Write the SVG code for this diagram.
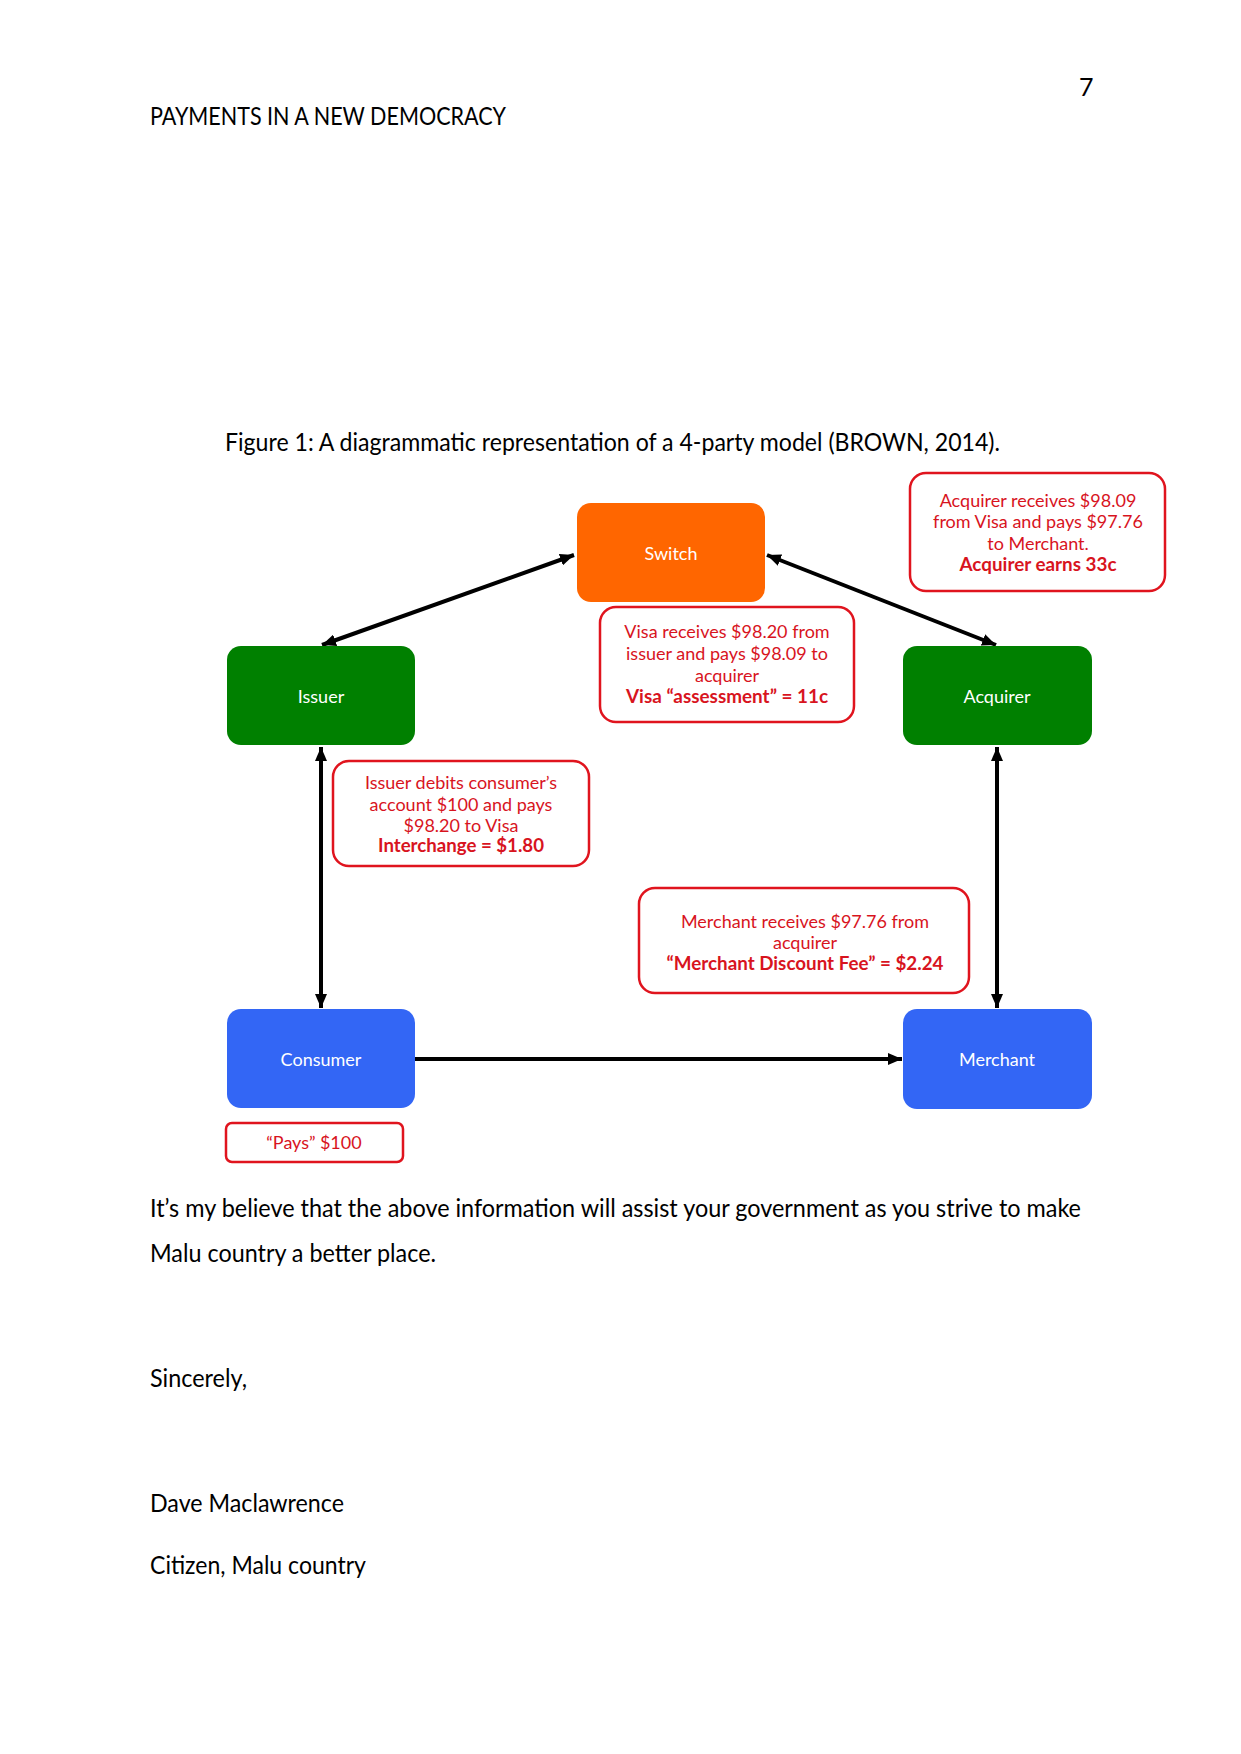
<svg xmlns="http://www.w3.org/2000/svg" width="1241" height="1754" viewBox="0 0 1241 1754">
<defs>
<style>
.page{font-family:Lato,"Liberation Sans",sans-serif;font-size:25px;fill:#000}
.node{font-family:Lato,"Liberation Sans",sans-serif;font-size:18px;fill:#fff;text-anchor:middle}
.note{font-family:Lato,"Liberation Sans",sans-serif;font-size:18px;fill:#d8141e;text-anchor:middle}
.b{font-weight:bold}
.nbox{fill:#fff;stroke:#e0141e;stroke-width:2.5}
.conn{stroke:#000;stroke-width:4;fill:none}
</style>
<marker id="ah" viewBox="0 0 14 12" refX="14" refY="6" markerWidth="14" markerHeight="12" markerUnits="userSpaceOnUse" orient="auto-start-reverse">
<path d="M0,0 L14,6 L0,12 Z" fill="#000"/>
</marker>
</defs>
<rect width="1241" height="1754" fill="#fff"/>
<text class="page" x="1079" y="96">7</text>
<text class="page" x="150" y="125" textLength="356" lengthAdjust="spacingAndGlyphs">PAYMENTS IN A NEW DEMOCRACY</text>
<text class="page" x="225" y="451" textLength="775" lengthAdjust="spacingAndGlyphs">Figure 1: A diagrammatic representation of a 4-party model (BROWN, 2014).</text>

<g id="connectors">
<line class="conn" x1="574" y1="555" x2="322" y2="645" marker-start="url(#ah)" marker-end="url(#ah)"/>
<line class="conn" x1="767" y1="555" x2="996" y2="645" marker-start="url(#ah)" marker-end="url(#ah)"/>
<line class="conn" x1="321" y1="747" x2="321" y2="1008" marker-start="url(#ah)" marker-end="url(#ah)"/>
<line class="conn" x1="997" y1="747" x2="997" y2="1008" marker-start="url(#ah)" marker-end="url(#ah)"/>
<line class="conn" x1="415" y1="1059" x2="902" y2="1059" marker-end="url(#ah)"/>
</g>

<g id="switch">
<rect x="577" y="503" width="188" height="99" rx="14" fill="#ff6600"/>
<text class="node" x="671" y="560">Switch</text>
</g>
<g id="issuer">
<rect x="227" y="646" width="188" height="99" rx="14" fill="#008000"/>
<text class="node" x="321" y="703">Issuer</text>
</g>
<g id="acquirer">
<rect x="903" y="646" width="189" height="99" rx="14" fill="#008000"/>
<text class="node" x="997" y="703">Acquirer</text>
</g>
<g id="consumer">
<rect x="227" y="1009" width="188" height="99" rx="14" fill="#3366f5"/>
<text class="node" x="321" y="1066">Consumer</text>
</g>
<g id="merchant">
<rect x="903" y="1009" width="189" height="100" rx="14" fill="#3366f5"/>
<text class="node" x="997" y="1066">Merchant</text>
</g>

<g id="note-acquirer">
<rect class="nbox" x="910" y="473" width="255" height="118" rx="16"/>
<text class="note" x="1038" y="507">Acquirer receives $98.09</text>
<text class="note" x="1038" y="528">from Visa and pays $97.76</text>
<text class="note" x="1038" y="550">to Merchant.</text>
<text class="note b" x="1038" y="571" textLength="157" lengthAdjust="spacingAndGlyphs">Acquirer earns 33c</text>
</g>
<g id="note-visa">
<rect class="nbox" x="600" y="607" width="254" height="115" rx="16"/>
<text class="note" x="727" y="638">Visa receives $98.20 from</text>
<text class="note" x="727" y="660">issuer and pays $98.09 to</text>
<text class="note" x="727" y="682">acquirer</text>
<text class="note b" x="727" y="703" textLength="202" lengthAdjust="spacingAndGlyphs">Visa “assessment” = 11c</text>
</g>
<g id="note-issuer">
<rect class="nbox" x="333" y="761" width="256" height="105" rx="16"/>
<text class="note" x="461" y="789">Issuer debits consumer’s</text>
<text class="note" x="461" y="811">account $100 and pays</text>
<text class="note" x="461" y="832">$98.20 to Visa</text>
<text class="note b" x="461" y="852" textLength="166" lengthAdjust="spacingAndGlyphs">Interchange = $1.80</text>
</g>
<g id="note-merchant">
<rect class="nbox" x="639" y="888" width="330" height="105" rx="16"/>
<text class="note" x="805" y="928">Merchant receives $97.76 from</text>
<text class="note" x="805" y="949">acquirer</text>
<text class="note b" x="805" y="970" textLength="277" lengthAdjust="spacingAndGlyphs">“Merchant Discount Fee” = $2.24</text>
</g>
<g id="note-pays">
<rect class="nbox" x="226" y="1123" width="177" height="39" rx="6"/>
<text class="note" x="314" y="1149">“Pays” $100</text>
</g>

<text class="page" x="150" y="1217" textLength="931" lengthAdjust="spacingAndGlyphs">It’s my believe that the above information will assist your government as you strive to make</text>
<text class="page" x="150" y="1262" textLength="286" lengthAdjust="spacingAndGlyphs">Malu country a better place.</text>
<text class="page" x="150" y="1387" textLength="97" lengthAdjust="spacingAndGlyphs">Sincerely,</text>
<text class="page" x="150" y="1512" textLength="194" lengthAdjust="spacingAndGlyphs">Dave Maclawrence</text>
<text class="page" x="150" y="1574" textLength="216" lengthAdjust="spacingAndGlyphs">Citizen, Malu country</text>
</svg>
